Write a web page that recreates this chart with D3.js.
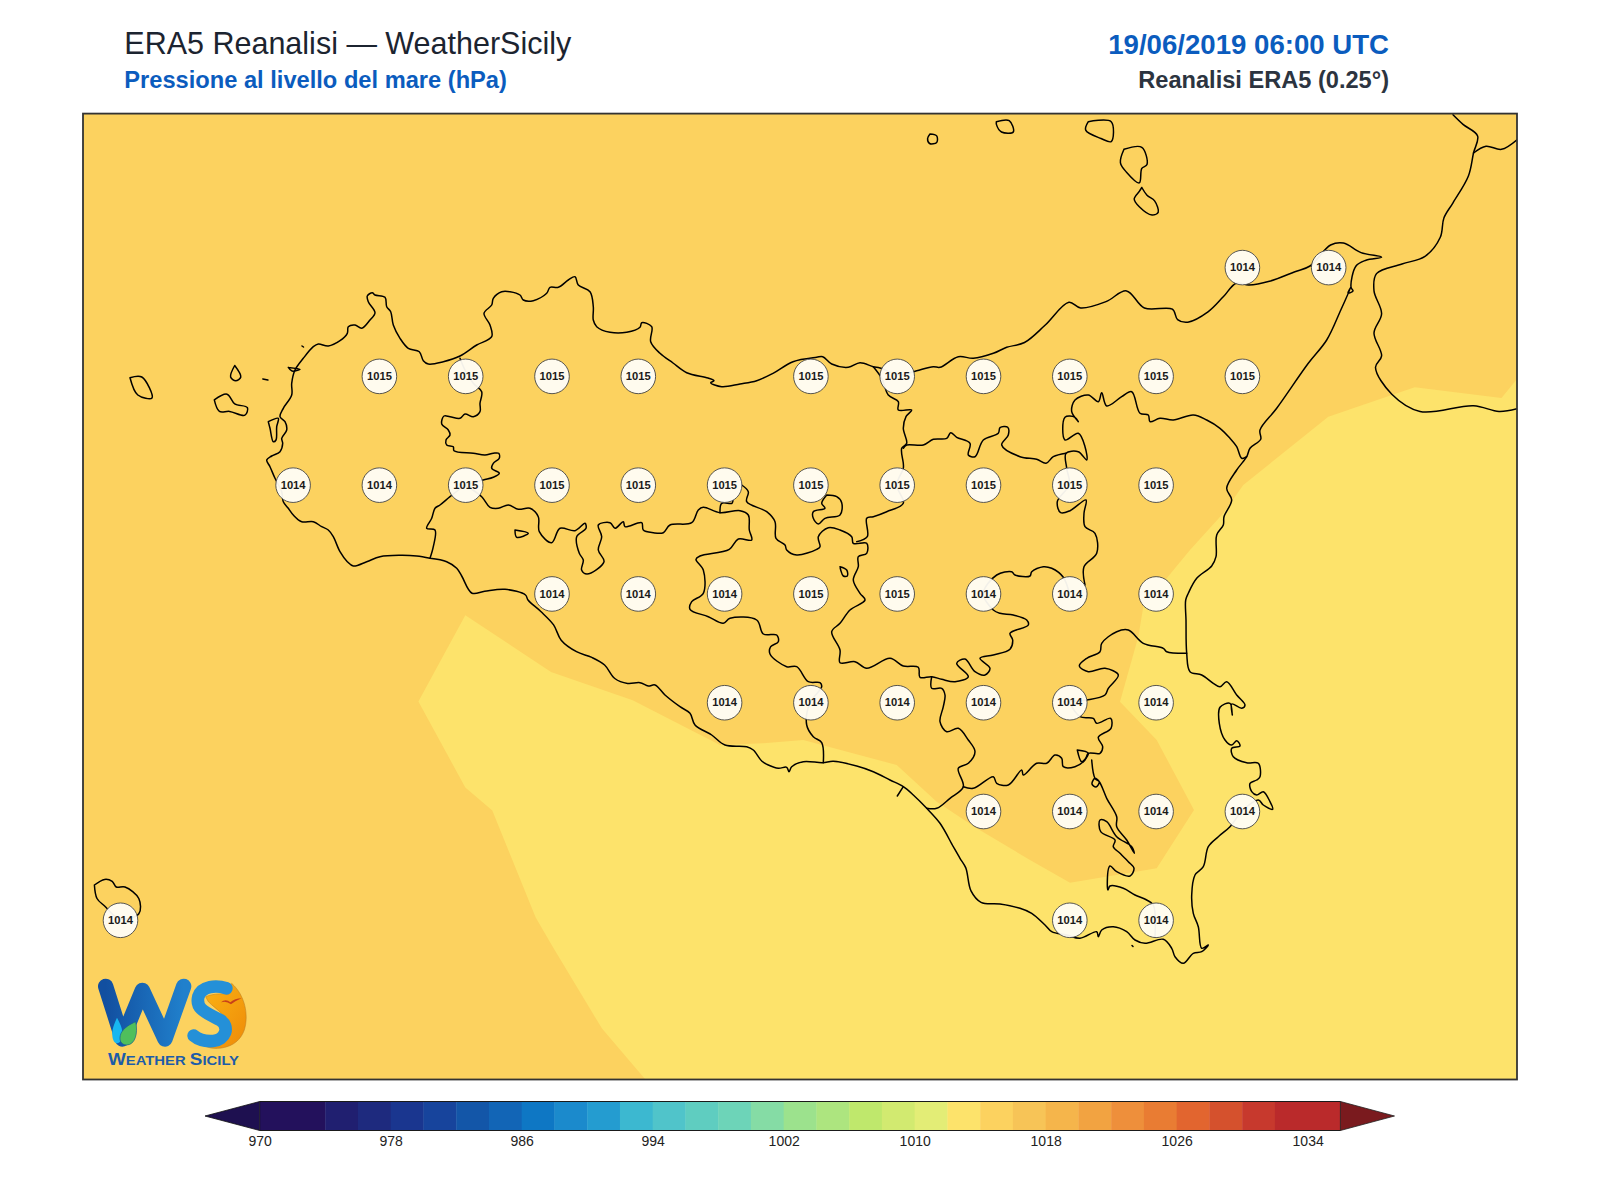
<!DOCTYPE html>
<html><head><meta charset="utf-8">
<script src="https://cdn.jsdelivr.net/npm/d3@7"></script>
<style>html,body{margin:0;background:#fff}svg{display:block}text{font-family:"Liberation Sans",Arial,sans-serif}</style>
</head><body><div id="c"></div>
<script>
// ---- pressure grid samples ----
const stationLons=[15.25,15.5, 12.75,13,13.25,13.5,14,14.25,14.5,14.75,15,15.25, 12.5,12.75,13,13.25,13.5,13.75,14,14.25,14.5,14.75,15, 13.25,13.5,13.75,14,14.25,14.5,14.75,15, 13.75,14,14.25,14.5,14.75,15, 14.5,14.75,15,15.25, 12,14.75,15];
const stationLats=[38.25,38.25, 38,38,38,38,38,38,38,38,38,38, 37.75,37.75,37.75,37.75,37.75,37.75,37.75,37.75,37.75,37.75,37.75, 37.5,37.5,37.5,37.5,37.5,37.5,37.5,37.5, 37.25,37.25,37.25,37.25,37.25,37.25, 37,37,37,37, 36.75,36.75,36.75];
const stationValues=[1014,1014, 1015,1015,1015,1015,1015,1015,1015,1015,1015,1015, 1014,1014,1015,1015,1015,1015,1015,1015,1015,1015,1015, 1014,1014,1014,1015,1015,1014,1014,1014, 1014,1014,1014,1014,1014,1014, 1014,1014,1014,1014, 1014,1014,1014];
// ---- colour bar ----
const barLevels=[970,974,976,978,980,982,984,986,988,990,992,994,996,998,1000,1002,1004,1006,1008,1010,1012,1014,1016,1018,1020,1022,1024,1026,1028,1030,1032,1036];
const barColors=["#23115c","#201f70","#1e2a7e","#1a368f","#17449c","#1356a8","#1265b6","#0e77c4","#1b8acc","#249cd0","#3cb8d0","#50c4ca","#5fcdc0","#6dd4b8","#85dca5","#9ce28d","#ade57f","#bfe86c","#d2ea70","#e3ed76","#fde36b","#fcd25f","#f7c457","#f5b54b","#f2a341","#ee8f3b","#e97c33","#e2652f","#d5512d","#c7392d","#ba2a2b"];
const barTicks=[970,978,986,994,1002,1010,1018,1026,1034];
// ---- filled contour (1012-1014 band), in map trace units ----
const lowBand=[[465.3,615.3],[551,672],[632.7,700.3],[720,745],[763.3,743.3],[803.3,740],[896.7,765],[936.7,801.7],[976.7,828.3],[1030,860],[1070,882.7],[1156.7,868.3],[1194,810],[1156.7,740],[1120,701.7],[1138.3,636.7],[1143.3,606.7],[1166.7,578.3],[1190,550],[1223.3,513.3],[1243.3,485],[1328.3,416.7],[1386.7,396.7],[1414.8,387.3],[1501.5,398],[1517,378.9],[1517,1079.5],[645.4,1079.5],[602,1028.6],[553.6,948.3],[535.7,917.6],[492.3,810.5],[465.3,787.5],[418.4,701.4]];
// ---- coastlines and boundaries, in map trace units ----
const sicilyCoast=[[430,558.3],[416.7,556],[400,555.3],[380,556.7],[366.7,561.7],[353.3,566],[347.3,561.7],[340,551.7],[333.3,536.7],[328.3,530],[321.7,526.7],[313.3,521.7],[301.7,521.7],[293.3,515],[288.3,508.3],[283.3,501.7],[281.7,491.7],[275,478.3],[270,466.7],[266.7,460],[271.7,456],[280,451.7],[282.7,443.3],[281.7,438.3],[286.7,430],[285,421.7],[280,416.7],[283.3,408.3],[291.7,395],[291.7,383.3],[295,370],[303.3,358.3],[313.3,346.7],[318.3,344],[328.3,346],[340,340.7],[347.3,333.3],[348.3,326.7],[355,325],[361.7,328.3],[370,320],[375,312.7],[368.3,301.7],[367.3,296],[372.3,292.7],[375,295],[385,297.3],[386.7,306.7],[390.7,311.7],[393.3,325],[400,338.3],[408.3,348.3],[419.3,351.7],[423.3,360.7],[428.3,364],[443.3,361.7],[460,356],[476.7,345],[491.7,336.7],[490,325],[484,313.3],[491.7,305],[493.3,298.3],[501.7,291.7],[510,291.7],[520,295],[523.3,300],[533.3,300.7],[546.7,293.3],[550,287.3],[558.3,287.3],[568.3,280],[575,276.7],[578.3,285],[590,291.7],[593.3,306.7],[593.3,320],[596.7,326.7],[610,332.3],[626.7,332.3],[640,327.3],[641.7,322.7],[651.7,326.7],[650.7,341.7],[660,353.3],[673,363],[686.7,372.7],[708,378],[714,380.7],[710.7,382.7],[721.7,386.7],[740,384],[756.7,380.7],[773,373.3],[793,361.7],[816.7,357.3],[822.7,356.7],[831.7,364],[848.3,367.3],[860,362.7],[873.3,366.7],[880,368],[900,375],[916.7,370.7],[933.3,366.7],[940,367.3],[958.3,356.7],[973.3,358.3],[993.3,353.3],[1006.7,347.3],[1024.5,342.5],[1045,325.3],[1068.9,302.3],[1080.6,308],[1106,301.6],[1126.5,290.9],[1144.4,308],[1172.4,309.2],[1177.6,319.6],[1187.8,322.2],[1208,311.9],[1223.5,296.6],[1236.2,283.2],[1249,285],[1269.4,281.3],[1294.9,271.7],[1310,266],[1330.6,245],[1343.4,243],[1361,252.6],[1381.6,257.2],[1366,260.2],[1356,266],[1351,287],[1353,291],[1348,293],[1351,287],[1340.8,310],[1326.7,340],[1308.3,363.3],[1276.7,408.3],[1260,430],[1260.7,439.3],[1250,448.3],[1246.7,456.7],[1236.7,470],[1226.7,488.3],[1231.7,500],[1224,516.7],[1223.3,525],[1216.7,535],[1216,556.7],[1211.7,566],[1196.7,578.3],[1188.3,593.3],[1185.7,600],[1186,620],[1186.7,653.3],[1190,671.7],[1201.7,675],[1213.3,683.3],[1220,686.7],[1226.7,681.7],[1236.7,695],[1245,705],[1241.7,708.3],[1231.7,704],[1232.3,715],[1230,703.3],[1220,707.3],[1219.3,723.3],[1225,740],[1231.7,745],[1236.7,740.7],[1240,746],[1231.7,748.3],[1233.3,756.7],[1246.7,762.7],[1258.3,763.3],[1260,776.7],[1256.7,780],[1250,783.3],[1251.7,791.7],[1256.7,795],[1263.3,791.7],[1270,801.7],[1272.7,809.3],[1263.3,805],[1258.3,800],[1242,811],[1230,826.7],[1218.3,836.7],[1208.3,846.7],[1203.3,866.7],[1195,875],[1191.7,895],[1193.3,913.3],[1198.3,926.7],[1201.7,948.3],[1208.3,945],[1201.7,951.7],[1193.3,953.3],[1183.3,963.3],[1175,956.7],[1171.7,948.3],[1163.3,939.3],[1145,943.3],[1135,940],[1126.7,931.7],[1113.3,926.7],[1101.7,930],[1098.3,936.7],[1096.7,931.7],[1080,938.3],[1066.7,935],[1051.7,931.7],[1045,925],[1031.7,913.3],[1020,908.3],[1000,904],[981,902.3],[971,890.9],[965.8,867.9],[960,858.3],[953.3,846.7],[940,823.3],[926.7,808.3],[913.3,795],[903.3,786.7],[890,780],[873.3,771.7],[856.7,766],[833.3,761.3],[822.7,762.7],[803.3,761.7],[791.7,766.7],[789,771.7],[786.7,767.3],[778.3,768.3],[768.3,765],[761.7,761],[753.3,750],[746.7,746.7],[725,745],[711.7,735],[695,725],[690,713.3],[680,706.7],[665,695],[655,685],[648.3,686],[640,682.7],[627.6,683.4],[614.8,678.5],[604.6,665],[591.8,657.4],[576.5,651.7],[561.2,640.2],[553.6,624.9],[540.8,611.5],[528,600],[525.5,595],[505,589.3],[484.7,591.3],[472,593.2],[461.7,576],[456.7,568.3],[446.7,561.7],[430,558.3]];
const calabriaCoast=[[1453,114.8],[1463,124.4],[1477.6,135.9],[1473.5,153],[1468.4,176],[1453,202.8],[1443.9,218],[1440.3,237.3],[1425,256.4],[1402,264],[1376.5,273.6],[1374,290.9],[1381.6,313.8],[1374,333],[1381.6,355.9],[1375.5,367.4],[1391.8,394.2],[1420,411.4],[1473.5,405.7],[1499,411.4],[1517,408.7]];
const calabriaBorder=[[1473.5,153],[1486,146.2],[1501.5,149.3],[1517,139.7]];
const boundaries=[
 [[460,358.3],[465,370],[473.3,383.3],[481.7,391.7],[480,403.3],[480,411.7],[473.3,416.7],[465,414],[460,418.3],[450,416.7],[444,416],[441.7,424],[448.3,430],[450,435],[446,440],[446.7,445],[453.3,446.7],[454,450.7],[473.3,453.3],[485,455],[493.3,453.3],[498.7,453.3],[499.3,458.3],[493.3,463.3],[491.7,468.3],[499.3,473.3],[493.3,477.3],[483.3,480],[465,485]],
 [[465,485],[450,496.7],[440,505],[435,508.3],[431.7,518.3],[426.7,528.3],[435,530],[433.3,546.7],[430,558.3]],
 [[465,485],[481.7,496.7],[490,507.3],[498.3,508.3],[508.3,505],[518.3,509.3],[530,508.3],[538.3,516.7],[539.3,531.7],[551.7,542.7],[560,528.3],[575,530.7],[585,523.3],[586,528.3],[576.7,536.7],[579.3,553.3],[583.3,560],[581.6,570],[587,574],[604,561.7],[598.3,550],[601.7,536.7],[598.3,525],[610,522.7],[615,528.3],[623.3,521.7],[625,526.7],[641.7,522.7],[643.3,530],[653.3,532.7],[663.3,532.7],[670,525],[691.7,522.7],[698.3,510],[703.3,507.3],[720,512.7],[740,510.7],[748.3,515],[749.3,530],[751.7,540],[738.3,539],[729.3,549.3],[700,556],[696,559.3],[703.3,570],[703.3,593.3],[691.7,601.7],[690,609.3],[708.3,616.7],[723.3,623.3],[730,618.3],[756.7,620],[763.3,634],[776.7,635],[778.3,641.7],[770.7,646.7],[770,654],[786.7,666.7],[796.7,666.7],[808.3,681.7],[820,682.7],[821.7,686.7],[810,702.7],[806.7,725],[813.3,736.7],[821.7,742.7],[823.3,762.7]],
 [[720,512.7],[721.7,503.3],[732,503.3],[733,500]],
 [[741.7,485],[748.3,491.7],[746.7,501.7],[766.7,511.7],[775,521.7],[776,538.3],[785,545],[786.7,550],[796.7,555],[816.7,549.3],[820,546.7],[818.3,536.7],[828.3,527.7],[840,530],[851.7,536.7],[853.3,543.3],[866.7,543.3],[866.7,553.3],[858.3,556.7],[858.3,566.7],[853.3,580],[860,593.3],[865,600],[850,610],[840,623.3],[831.7,631.7],[840,650],[840,662.7],[855,661.7],[866.7,668.3],[890,658.3],[903.3,666],[918.3,667.3],[920,677.3],[931.7,676.7],[941.7,679.3],[955,681.7],[968.3,676.7],[956.7,663.3],[965,659],[975,671.7],[985,675],[990,668.3],[980,658.3],[993.3,655],[1010,649.3],[1012.7,640],[1010,633.3],[1028.3,625],[1026.7,620],[1013.3,615],[1000,613.3],[993.3,610],[983.3,593.3],[996.7,575],[1011.7,571.7],[1015,575],[1030,576],[1031.7,571.7],[1043.3,566.7],[1051.7,568.3],[1063.3,577.3],[1069.3,593.3]],
 [[1085,585],[1084,566.7],[1096.7,553.3],[1095,533.3],[1085,526.7],[1084,513.3],[1086,500],[1070,510.7],[1060.7,512.7],[1057.3,501.7],[1069.3,484.3],[1066.7,468.3],[1066,453.3],[1078.3,451.7],[1086.7,460],[1085,446.7],[1078.3,433.3],[1065,440],[1065,417.3],[1075,417.3],[1078.3,421.7],[1071.7,411.7],[1075,400],[1088.3,395],[1098.3,401.7],[1101.7,392.7],[1106.7,406],[1121.7,396.7],[1131.7,391.7],[1140,413.3],[1148.3,415],[1150,421.7],[1160,418.3],[1173.3,420],[1193.3,415],[1206.7,420],[1220,428.3],[1230,438.3],[1236.7,446.7],[1241.7,458.3],[1246.7,456.7]],
 [[903.3,448.3],[906.7,445],[923.3,445],[933.3,439.3],[946.7,438.3],[950.7,432.7],[956.7,437.3],[970,443.3],[968.3,455],[975,456.7],[983.3,440],[998.3,433.3],[1000,427.7],[1007.7,427.3],[1008.3,435],[1001.7,445],[1020,456.7],[1036.7,459.3],[1046,463.3],[1053.3,456.7],[1066,453.3]],
 [[873.3,366.7],[881.7,378.3],[888.3,395],[898.3,401.7],[898.3,410],[911.7,410],[906,416.7],[903.3,428.3],[906.7,443.3],[901.7,448.3],[903.3,463.3],[903.3,468.3],[896.7,485],[903.3,503.3],[886.7,511.7],[873.3,516.7],[866.7,518.3],[867.3,536.7],[856.7,541.7]],
 [[931.7,676.7],[931.7,688.3],[941.7,688.3],[945,695],[943.3,706.7],[940,721.7],[946.7,731.7],[958.3,728.3],[968.3,740],[975,751.7],[968.3,763.3],[958.3,768.3],[963.3,786.7],[950,798.3],[936.7,808.3],[926.7,808.3]],
 [[963.3,786.7],[973.3,788.3],[993.3,776.7],[996.7,783.3],[1008.3,785],[1021.7,770],[1023.3,775],[1036.7,763.3],[1046.7,763.3],[1055,755],[1061.7,758.3],[1063.3,766.7],[1075,766.7],[1085,760],[1088.3,753.3],[1100,753.3],[1102.7,746.7],[1098.3,737.3],[1111,728.3],[1110.7,718.3],[1096.7,723.3],[1093.3,718.3],[1080,716.7],[1069,701.7]],
 [[1069,701.7],[1086.7,700],[1105,695],[1108.3,688.3],[1118.3,675],[1105,668.3],[1088.3,671.7],[1079.3,666],[1086.7,658.3],[1100,651.7],[1101.7,643.3],[1116.7,631.7],[1128.3,630],[1143.3,643.3],[1163.3,648.3],[1166.7,651.7],[1186.7,653.3]],
 [[1077.3,750],[1081.7,761.7],[1088.3,753.3],[1077.3,750]],
 [[1091.7,760],[1095,778.3],[1099.3,781.7],[1096,787],[1092,784],[1095,778.3],[1099.3,781.7],[1106.7,798.3],[1116.7,816.7],[1116.7,826.7],[1126.7,840],[1134.3,853.3],[1131.7,846.7],[1116.7,836.7],[1106.7,821.7],[1100,820],[1100.7,831.7],[1115,840],[1113.3,846.7],[1120,853.3],[1128.3,861.7],[1134,868.3],[1130,876],[1116.7,871.7],[1110,866],[1107.3,885],[1108,890],[1110,886],[1123.3,888.3],[1135,895],[1146.7,900],[1153.3,905],[1155,936.7]],
 [[903.3,786.7],[897.3,796]]
];
const islands=[
 [[930,134],[936.7,135.9],[936.7,142.4],[929.6,143.5],[927.6,138.5],[930,134]],
 [[996.4,121.7],[1009.2,120.6],[1013.3,132],[1001.5,132],[996.4,124.4],[996.4,121.7]],
 [[1088.3,121.7],[1111.2,121.7],[1111.2,141.6],[1101,138.5],[1085.7,130.1],[1088.3,121.7]],
 [[1124,149.3],[1141.8,147.3],[1147,164.6],[1141.8,168.4],[1139.3,182.9],[1126.5,172.2],[1120.4,162.6],[1124,149.3]],
 [[1141.8,187.5],[1147,195.2],[1154.6,200.9],[1158.2,212.4],[1152,215],[1139.3,206.7],[1134.2,199],[1139.3,191.4],[1141.8,187.5]],
 [[130,377.7],[141.8,377],[152,398],[137.8,395],[130,377.7]],
 [[214.3,399.9],[227,394.2],[234.7,403.8],[247.4,407.6],[244.9,415.2],[229.6,411.4],[219.4,411.4],[214.3,399.9]],
 [[234.7,365.5],[240.8,377],[235.7,380.8],[230.6,377],[234.7,365.5]],
 [[262.8,378.9],[267.9,380]],
 [[288.3,367.4],[300,369.3],[292,371],[288.3,367.4]],
 [[302,346],[303.5,347]],
 [[268.3,421.7],[278.3,418.3],[276.7,426.7],[276,440],[273.3,441.7],[270,428.3],[268.3,421.7]],
 [[94.4,885],[104.6,879.4],[112.2,881.3],[116.3,887],[125,887],[138.8,898.5],[138.8,913.8],[120,919],[104.6,906],[97,898.5],[94.4,885]],
 [[515,530],[528.3,533.3],[516.7,537.3],[515,530]],
 [[826.7,495],[836.7,496.7],[841.7,502.7],[840,515],[825,518.3],[818.3,524],[813.3,518.3],[813.3,511.7],[825,508.3],[821.7,503.3],[826.7,495]],
 [[840,566.7],[846.7,570],[847.3,576],[843.3,576],[840.7,570],[840,566.7]],
 [[1132,945.5],[1133,946.5]]
];

const W=1600,H=1200,L=83,R=1517,T=113.6,B=1079.5;
const svg=d3.select("#c").append("svg").attr("width",W).attr("height",H);
svg.append("rect").attr("width",W).attr("height",H).attr("fill","#fff");

const mapX=d3.scaleLinear().domain([83,1517]).range([L,R]);
const mapY=d3.scaleLinear().domain([113.6,1079.5]).range([T,B]);
const lonX=d3.scaleLinear().domain([12,15.5]).range([120.5,1328.7]);
const latY=d3.scaleLinear().domain([38.25,36.75]).range([267.6,920.3]);
const line=d3.line().x(d=>mapX(d[0])).y(d=>mapY(d[1]));
const coastLine=d3.line().x(d=>mapX(d[0])).y(d=>mapY(d[1])).curve(d3.curveCatmullRom.alpha(0.5));

svg.append("clipPath").attr("id","mapclip").append("rect").attr("x",L).attr("y",T).attr("width",R-L).attr("height",B-T);
const map=svg.append("g").attr("clip-path","url(#mapclip)");
const colorOf=v=>barColors[d3.bisectRight(barLevels,v)-1];
map.append("rect").attr("x",L).attr("y",T).attr("width",R-L).attr("height",B-T).attr("fill",colorOf(1015));
map.append("path").attr("d",line(lowBand)+"Z").attr("fill",colorOf(1013));

const lines=[sicilyCoast,calabriaCoast,calabriaBorder,...boundaries,...islands];
map.selectAll("path.coast").data(lines).join("path").attr("class","coast").attr("d",coastLine)
  .attr("fill","none").attr("stroke","#000").attr("stroke-width",1.5).attr("stroke-linejoin","round").attr("stroke-linecap","round");

// pressure labels
const st=stationValues.map((v,i)=>({v,lon:stationLons[i],lat:stationLats[i]}));
const g=map.selectAll("g.st").data(st).join("g").attr("class","st")
  .attr("transform",d=>`translate(${lonX(d.lon)},${latY(d.lat)})`);
g.append("circle").attr("r",17.3).attr("fill","#fffdf6").attr("fill-opacity",0.95).attr("stroke","#444").attr("stroke-width",0.9);
g.append("text").text(d=>d.v).attr("text-anchor","middle").attr("y",3.6).attr("font-size",11.2).attr("font-weight","bold").attr("fill","#1a1a1a");

// frame
svg.append("rect").attr("x",L).attr("y",T).attr("width",R-L).attr("height",B-T).attr("fill","none").attr("stroke","#333").attr("stroke-width",1.8);

// titles
const t=(s,x,y,size,weight,fill,anchor)=>svg.append("text").text(s).attr("x",x).attr("y",y).attr("font-size",size).attr("font-weight",weight).attr("fill",fill).attr("text-anchor",anchor);
t("ERA5 Reanalisi — WeatherSicily",124.3,54,30.5,"normal","#1c2430","start");
t("Pressione al livello del mare (hPa)",124.3,88,23.66,"bold","#0b5cbe","start");
t("19/06/2019 06:00 UTC",1389,54,27.6,"bold","#0b5cbe","end");
t("Reanalisi ERA5 (0.25°)",1389,88,23.6,"bold","#2c3440","end");

// colour bar
const cb=d3.scaleLinear().domain([970,1036]).range([259.7,1340.4]);
const cy0=1101.5,cy1=1130.5,cm=(cy0+cy1)/2;
const bar=svg.append("g");
bar.selectAll("rect").data(barColors).join("rect")
  .attr("x",(d,i)=>cb(barLevels[i])).attr("y",cy0)
  .attr("width",(d,i)=>cb(barLevels[i+1])-cb(barLevels[i])+0.4).attr("height",cy1-cy0).attr("fill",d=>d);
bar.append("path").attr("d",`M${cb(970)},${cy0}L205,${cm}L${cb(970)},${cy1}Z`).attr("fill","#1e1050").attr("stroke","#111").attr("stroke-width",0.8);
bar.append("path").attr("d",`M${cb(1036)},${cy0}L1394.5,${cm}L${cb(1036)},${cy1}Z`).attr("fill","#7a1a1e").attr("stroke","#222").attr("stroke-width",0.8);
bar.append("path").attr("d",`M${cb(970)},${cy0}H${cb(1036)}M${cb(970)},${cy1}H${cb(1036)}`).attr("stroke","#1a1a1a").attr("stroke-width",1.2).attr("fill","none");
const ax=svg.append("g").attr("transform",`translate(0,${cy1})`).call(d3.axisBottom(cb).tickValues(barTicks).tickFormat(d3.format("d")).tickSize(0).tickPadding(6));
ax.select(".domain").remove();
ax.selectAll("text").attr("font-size",14).attr("font-family",'"Liberation Sans",Arial,sans-serif').attr("fill","#222");

// logo
const defs=svg.append("defs");
const wg=defs.append("linearGradient").attr("id","wg").attr("x1",0).attr("x2",1).attr("y1",0).attr("y2",0);
wg.append("stop").attr("offset",0).attr("stop-color","#124fa0");wg.append("stop").attr("offset",1).attr("stop-color","#2080cc");
const og=defs.append("linearGradient").attr("id","og").attr("x1",0).attr("x2",1).attr("y1",0).attr("y2",1);
og.append("stop").attr("offset",0).attr("stop-color","#fbb514");og.append("stop").attr("offset",1).attr("stop-color","#ee8a08");
const logo=svg.append("g").attr("transform","translate(85,965) scale(0.3333)");
logo.append("path").attr("d","M62,64 L112,222 L172,76 L240,222 L296,64").attr("fill","none").attr("stroke","url(#wg)").attr("stroke-width",46).attr("stroke-linejoin","round").attr("stroke-linecap","round");
logo.append("path").attr("d","M440,55 C480,90 492,150 478,195 C462,240 420,252 385,250 C365,248 350,240 345,232 C395,240 432,215 432,185 C432,155 395,135 370,110 L362,95 C385,85 420,85 432,88 Z").attr("fill","url(#og)").attr("stroke","#b87a20").attr("stroke-width",1.5);
logo.append("path").attr("d","M424,70 C395,60 350,62 340,95 C330,135 370,145 405,165 C437,185 420,225 385,228 C360,230 338,222 326,212").attr("fill","none").attr("stroke","#2490d8").attr("stroke-width",38).attr("stroke-linecap","round").attr("stroke-linejoin","round");
logo.append("path").attr("d","M96,158 C108,180 118,200 108,225 C100,242 84,236 82,212 C80,195 88,175 96,158 Z").attr("fill","#17b7f0");
logo.append("path").attr("d","M152,170 C160,205 150,240 125,240 C108,240 100,225 108,205 C116,188 135,178 152,170 Z").attr("fill","#4fbf5c").attr("stroke","#1b5d8a").attr("stroke-width",2);
logo.append("path").attr("d","M408,112 Q422,100 436,112 Q450,100 470,100 Q450,108 438,118 Q424,106 408,112 Z").attr("fill","#c8401a");
const lt=svg.append("text").attr("x",108).attr("y",1064.5).attr("font-weight","bold").attr("fill","#1d5ca8").attr("textLength",131).attr("lengthAdjust","spacingAndGlyphs");
[["W",16.5],["EATHER ",13],["S",16.5],["ICILY",13]].forEach(([s,f])=>lt.append("tspan").attr("font-size",f).text(s));
</script></body></html>
